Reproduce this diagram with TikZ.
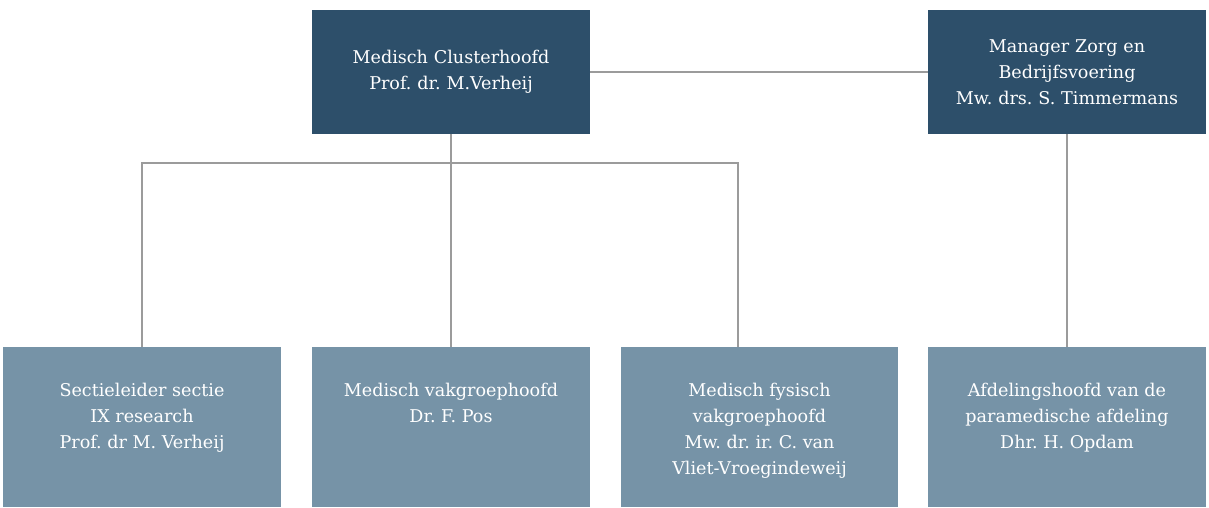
\documentclass[tikz,border=0pt]{standalone}
\usepackage{fontspec}
\setmainfont{DejaVu Serif}
\frenchspacing
\definecolor{darkblue}{HTML}{2D4F6A}
\definecolor{greyblue}{HTML}{7693A7}
\definecolor{linegrey}{HTML}{9B9B9B}
\newcommand{\toptext}[1]{\parbox[c][2.8cm][t]{5.16cm}{\centering\vspace*{0.53cm}#1}}
\begin{document}
\begin{tikzpicture}[x=0.02cm, y=-0.02cm,
  headbox/.style={fill=darkblue, text=white, align=center, text width=5.16cm, minimum width=5.56cm, minimum height=2.48cm, inner sep=0.2cm, font=\fontsize{10}{14.7}\selectfont},
  unitbox/.style={fill=greyblue, text=white, minimum width=5.56cm, minimum height=3.2cm, inner sep=0.2cm, font=\fontsize{10}{14.7}\selectfont},
  link/.style={draw=linegrey, line width=0.8pt}]
\useasboundingbox (0,0) rectangle (1209,507);
\node[headbox] (head) at (451,72) {Medisch Clusterhoofd\\Prof. dr. M.Verheij};
\node[headbox] (mgr) at (1067,72) {Manager Zorg en\\Bedrijfsvoering\\Mw. drs. S. Timmermans};
\node[unitbox] (s1) at (142,427) {\toptext{Sectieleider sectie\\IX research\\Prof. dr M. Verheij}};
\node[unitbox] (s2) at (451,427) {\toptext{Medisch vakgroephoofd\\Dr. F. Pos}};
\node[unitbox] (s3) at (759.5,427) {\toptext{Medisch fysisch\\vakgroephoofd\\Mw. dr. ir. C. van\\Vliet-Vroegindeweij}};
\node[unitbox] (s4) at (1067,427) {\toptext{Afdelingshoofd van de\\paramedische afdeling\\Dhr. H. Opdam}};
\coordinate (bar) at (0,163);
\coordinate (s3line) at ([xshift=-0.43cm]s3.north);
\draw[link] (head.south) -- (s2.north);
\draw[link] (s1.north) -- (s1.north |- bar) -- (s3line |- bar) -- (s3line);
\draw[link] (head.east) -- (mgr.west);
\draw[link] (mgr.south) -- (s4.north);
\end{tikzpicture}
\end{document}
